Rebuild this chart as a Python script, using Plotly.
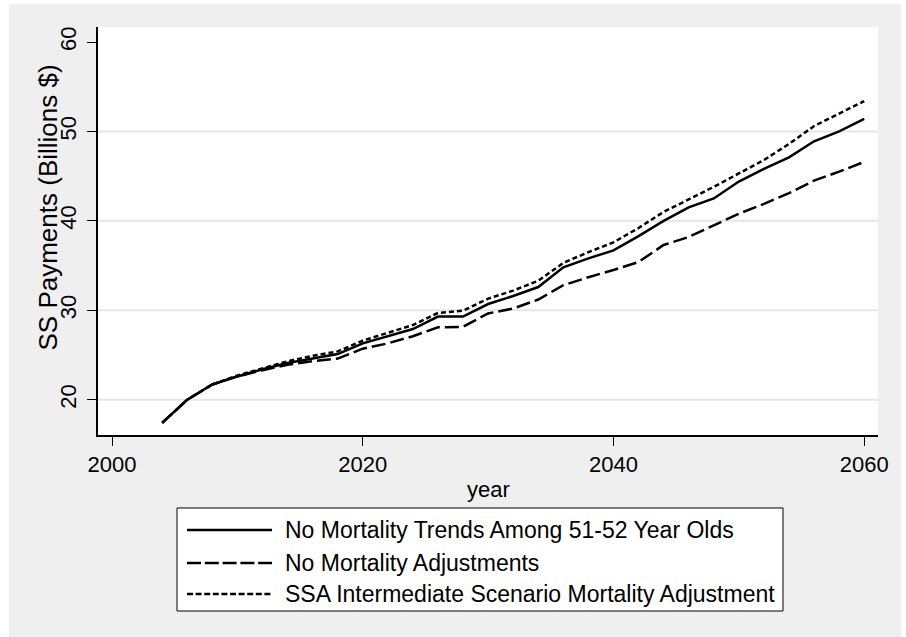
import plotly.graph_objects as go

# Projected Social Security payments (billions of dollars), every two years
years = [2004, 2006, 2008, 2010, 2012, 2014, 2016, 2018, 2020, 2022,
         2024, 2026, 2028, 2030, 2032, 2034, 2036, 2038, 2040, 2042,
         2044, 2046, 2048, 2050, 2052, 2054, 2056, 2058, 2060]

no_trends = [17.4, 20.0, 21.7, 22.6, 23.4, 24.1, 24.6, 25.1, 26.3, 27.1,
             27.9, 29.3, 29.3, 30.7, 31.6, 32.6, 34.8, 35.8, 36.7, 38.3,
             40.0, 41.5, 42.5, 44.4, 45.8, 47.1, 48.9, 50.0, 51.4]

no_adjust = [17.4, 20.0, 21.7, 22.6, 23.3, 23.9, 24.3, 24.6, 25.7, 26.3,
             27.1, 28.1, 28.15, 29.65, 30.2, 31.2, 32.8, 33.7, 34.5, 35.4,
             37.3, 38.2, 39.5, 40.8, 41.9, 43.1, 44.5, 45.5, 46.6]

ssa_interm = [17.4, 20.0, 21.7, 22.7, 23.5, 24.3, 24.9, 25.4, 26.6, 27.5,
              28.35, 29.7, 29.95, 31.3, 32.2, 33.3, 35.3, 36.5, 37.6, 39.2,
              41.0, 42.4, 43.8, 45.3, 46.8, 48.6, 50.6, 52.0, 53.4]

series_names = ["No Mortality Trends Among 51-52 Year Olds",
                "No Mortality Adjustments",
                "SSA Intermediate Scenario Mortality Adjustment"]
series_values = [no_trends, no_adjust, ssa_interm]

x_ticks = [2000, 2020, 2040, 2060]
y_ticks = [20, 30, 40, 50, 60]
grid_levels = [20, 30, 40, 50]

FONT = "Liberation Sans, Arial, sans-serif"
line_dashes = ["solid", "14px,5px", "5px,3px"]
legend_dashes = ["solid", "14px,3.8px", "6px,2.6px"]

fig = go.Figure()
for name, vals, dash in zip(series_names, series_values, line_dashes):
    fig.add_trace(go.Scatter(
        x=years, y=vals, mode="lines", name=name, showlegend=False,
        line=dict(color="black", width=2.5, dash=dash),
    ))

# figure frame: gray outer region with white plot area
shapes = [
    dict(type="rect", xref="paper", yref="paper", x0=-0.1141, x1=1.0295,
         y0=-0.6, y1=1.0564, fillcolor="#efefef", line=dict(width=0), layer="below"),
    dict(type="rect", xref="paper", yref="paper", x0=0, x1=1, y0=0, y1=1,
         fillcolor="white", line=dict(width=0), layer="below"),
]
for g in grid_levels:
    shapes.append(dict(type="line", xref="paper", yref="y", x0=0, x1=1, y0=g, y1=g,
                       line=dict(color="#e6e6e6", width=2), layer="below"))

# legend box drawn below the axis
leg_x0, leg_x1 = 0.1013, 0.8782
leg_y0, leg_y1 = -0.4314, -0.1789
shapes.append(dict(type="rect", xref="paper", yref="paper", x0=leg_x0, x1=leg_x1,
                   y0=leg_y0, y1=leg_y1, fillcolor="white",
                   line=dict(color="black", width=1)))
row_y = [-0.2328, -0.3137, -0.3897]
annotations = []
for name, dash, ry in zip(series_names, legend_dashes, row_y):
    shapes.append(dict(type="line", xref="paper", yref="paper", x0=0.1141, x1=0.2231,
                       y0=ry, y1=ry, line=dict(color="black", width=2.4, dash=dash)))
    annotations.append(dict(text=name, xref="paper", yref="paper", x=0.2372, y=ry,
                            xanchor="left", yanchor="middle", showarrow=False,
                            font=dict(family=FONT, size=23, color="black")))

annotations.append(dict(text="year", xref="paper", yref="paper", x=0.5, y=-0.1348,
                        xanchor="center", yanchor="middle", showarrow=False,
                        font=dict(family=FONT, size=22, color="black")))
annotations.append(dict(text="SS Payments (Billions $)", xref="paper", yref="paper",
                        x=-0.0641, y=0.5576, textangle=-90, xanchor="center",
                        yanchor="middle", showarrow=False,
                        font=dict(family=FONT, size=26, color="black")))

fig.update_layout(
    width=906, height=637,
    margin=dict(l=98, r=28, t=27, b=202),
    paper_bgcolor="white", plot_bgcolor="white",
    font=dict(family=FONT, size=22, color="black"),
    shapes=shapes, annotations=annotations,
    xaxis=dict(range=[1998.88, 2061.1], tickvals=x_ticks, showgrid=False,
               zeroline=False, showline=True, linecolor="black", linewidth=1.5,
               ticks="outside", ticklen=9, tickwidth=1.2, tickcolor="black",
               tickfont=dict(family=FONT, size=22, color="black")),
    yaxis=dict(range=[16.05, 61.68], tickvals=y_ticks, showgrid=False,
               zeroline=False, showline=True, linecolor="black", linewidth=1.5,
               ticks="outside", ticklen=9, tickwidth=1.2, tickcolor="black",
               tickangle=-90, ticklabelstandoff=2,
               tickfont=dict(family=FONT, size=22, color="black")),
)

fig.write_html("out.html")
